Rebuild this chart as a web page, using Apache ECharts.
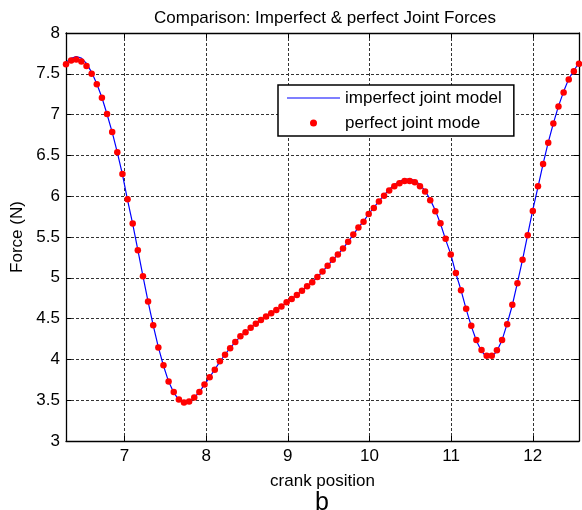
<!DOCTYPE html>
<html>
<head>
<meta charset="utf-8">
<title>Joint Forces</title>
<script src="https://cdn.jsdelivr.net/npm/echarts@6/dist/echarts.min.js"></script>
<style>
  html, body { margin: 0; padding: 0; background: #fff; }
  #chart { width: 582px; height: 510px; }
</style>
</head>
<body>
<div id="chart"></div>
<script>
// Crank positions (rad), one full turn from 2π to 4π
const crankPosition = [
  6.2832, 6.3460, 6.4088, 6.4717, 6.5345, 6.5973, 6.6602, 6.7230, 6.7858, 6.8487,
  6.9115, 6.9743, 7.0372, 7.1000, 7.1628, 7.2257, 7.2885, 7.3513, 7.4142, 7.4770,
  7.5398, 7.6027, 7.6655, 7.7283, 7.7911, 7.8540, 7.9168, 7.9796, 8.0425, 8.1053,
  8.1681, 8.2310, 8.2938, 8.3566, 8.4195, 8.4823, 8.5451, 8.6080, 8.6708, 8.7336,
  8.7965, 8.8593, 8.9221, 8.9850, 9.0478, 9.1106, 9.1735, 9.2363, 9.2991, 9.3619,
  9.4248, 9.4876, 9.5504, 9.6133, 9.6761, 9.7389, 9.8018, 9.8646, 9.9274, 9.9903,
  10.0531, 10.1159, 10.1788, 10.2416, 10.3044, 10.3673, 10.4301, 10.4929, 10.5558, 10.6186,
  10.6814, 10.7442, 10.8071, 10.8699, 10.9327, 10.9956, 11.0584, 11.1212, 11.1841, 11.2469,
  11.3097, 11.3726, 11.4354, 11.4982, 11.5611, 11.6239, 11.6867, 11.7496, 11.8124, 11.8752,
  11.9381, 12.0009, 12.0637, 12.1265, 12.1894, 12.2522, 12.3150, 12.3779, 12.4407, 12.5035,
  12.5664
];

// Joint force with clearance (imperfect joint), N
const imperfectForce = [
  7.640, 7.690, 7.712, 7.692, 7.628, 7.518, 7.378, 7.210, 7.004, 6.786,
  6.536, 6.268, 5.952, 5.660, 5.342, 5.020, 4.708, 4.418, 4.150, 3.922,
  3.728, 3.594, 3.505, 3.468, 3.480, 3.530, 3.602, 3.690, 3.782, 3.876,
  3.972, 4.060, 4.140, 4.212, 4.282, 4.336, 4.386, 4.438, 4.480, 4.528,
  4.566, 4.604, 4.650, 4.700, 4.742, 4.788, 4.842, 4.896, 4.944, 5.010,
  5.074, 5.148, 5.218, 5.288, 5.358, 5.444, 5.530, 5.618, 5.690, 5.784,
  5.860, 5.940, 6.012, 6.082, 6.140, 6.182, 6.205, 6.210, 6.194, 6.142,
  6.066, 5.958, 5.826, 5.662, 5.468, 5.290, 5.052, 4.850, 4.616, 4.408,
  4.228, 4.100, 4.030, 4.030, 4.102, 4.236, 4.438, 4.664, 4.940, 5.224,
  5.530, 5.836, 6.112, 6.396, 6.660, 6.892, 7.104, 7.282, 7.438, 7.540,
  7.632
];

// Joint force without clearance (perfect joint), N
const perfectForce = [
  7.617, 7.663, 7.675, 7.650, 7.597, 7.502, 7.371, 7.207, 7.006, 6.788,
  6.538, 6.271, 5.963, 5.664, 5.339, 5.018, 4.711, 4.420, 4.147, 3.927,
  3.730, 3.599, 3.509, 3.472, 3.484, 3.533, 3.599, 3.693, 3.780, 3.873,
  3.977, 4.058, 4.137, 4.214, 4.284, 4.334, 4.387, 4.436, 4.482, 4.526,
  4.565, 4.605, 4.648, 4.701, 4.740, 4.789, 4.842, 4.895, 4.945, 5.009,
  5.076, 5.147, 5.220, 5.286, 5.360, 5.442, 5.532, 5.615, 5.688, 5.782,
  5.856, 5.935, 6.004, 6.070, 6.123, 6.160, 6.185, 6.185, 6.172, 6.123,
  6.058, 5.951, 5.815, 5.667, 5.479, 5.286, 5.060, 4.846, 4.621, 4.411,
  4.239, 4.116, 4.046, 4.046, 4.112, 4.239, 4.432, 4.670, 4.932, 5.220,
  5.520, 5.819, 6.123, 6.394, 6.656, 6.890, 7.100, 7.272, 7.429, 7.531,
  7.622
];

// Axis ticks
const crankTicks = [7, 8, 9, 10, 11, 12];
const forceTicks = [3, 3.5, 4, 4.5, 5, 5.5, 6, 6.5, 7, 7.5, 8];

const seriesNames = ['imperfect joint model', 'perfect joint mode'];

const FONT = 'Liberation Sans, Arial, Helvetica, sans-serif';

const pairs = (xs, ys) => xs.map((x, i) => [x, ys[i]]);

const gridLine = { show: true, lineStyle: { color: '#333', width: 1, type: [3, 2] } };
const boxLine = { show: true, onZero: false, lineStyle: { color: '#000', width: 1.3 } };
const tickIn = (vals) => ({ show: true, inside: true, length: 5, customValues: vals, lineStyle: { color: '#000', width: 1 } });

const chart = echarts.init(document.getElementById('chart'), null, { renderer: 'canvas' });

chart.setOption({
  animation: false,
  backgroundColor: '#fff',
  textStyle: { fontFamily: FONT },
  title: {
    text: 'Comparison: Imperfect & perfect Joint Forces',
    left: 154,
    top: 10,
    padding: 0,
    textStyle: { fontFamily: FONT, fontSize: 17, fontWeight: 'normal', color: '#000' }
  },
  grid: { left: 66, right: 3, top: 33, bottom: 69, containLabel: false },
  legend: {
    orient: 'vertical',
    left: 278,
    top: 85,
    padding: [3, 12, 3, 9],
    itemWidth: 53,
    itemHeight: 7,
    itemGap: 5,
    borderColor: '#000',
    borderWidth: 1.5,
    backgroundColor: '#fff',
    textStyle: { fontFamily: FONT, fontSize: 17, lineHeight: 20, color: '#000' },
    data: [
      // plain line sample, no marker
      { name: seriesNames[0], icon: 'path://M0,0 L53,0 L53,1.2 L0,1.2 Z', itemStyle: { color: '#0000ff' } },
      { name: seriesNames[1], icon: 'circle' }
    ]
  },
  xAxis: [
    {
      type: 'value',
      position: 'bottom',
      min: 2 * Math.PI,
      max: 4 * Math.PI,
      name: 'crank position',
      nameLocation: 'middle',
      nameGap: 32,
      nameTextStyle: { fontFamily: FONT, fontSize: 17, color: '#000' },
      axisLine: boxLine,
      axisTick: tickIn(crankTicks),
      axisLabel: { customValues: crankTicks, margin: 7, fontFamily: FONT, fontSize: 17, color: '#000' },
      splitLine: gridLine
    },
    {
      type: 'value',
      position: 'top',
      min: 2 * Math.PI,
      max: 4 * Math.PI,
      axisLine: boxLine,
      axisTick: tickIn(crankTicks),
      axisLabel: { show: false, customValues: crankTicks },
      splitLine: { show: false }
    }
  ],
  yAxis: [
    {
      type: 'value',
      position: 'left',
      min: forceTicks[0],
      max: forceTicks[forceTicks.length - 1],
      interval: 0.5,
      name: 'Force (N)',
      nameLocation: 'middle',
      nameGap: 35,
      nameTextStyle: { fontFamily: FONT, fontSize: 17, color: '#000' },
      axisLine: boxLine,
      axisTick: { show: true, inside: true, length: 5, lineStyle: { color: '#000' } },
      axisLabel: { margin: 6, fontFamily: FONT, fontSize: 17, color: '#000' },
      splitLine: gridLine
    },
    {
      type: 'value',
      position: 'right',
      min: forceTicks[0],
      max: forceTicks[forceTicks.length - 1],
      interval: 0.5,
      axisLine: boxLine,
      axisTick: { show: true, inside: true, length: 5, lineStyle: { color: '#000' } },
      axisLabel: { show: false },
      splitLine: { show: false }
    }
  ],
  series: [
    {
      name: seriesNames[0],
      type: 'line',
      xAxisIndex: 0,
      yAxisIndex: 0,
      data: pairs(crankPosition, imperfectForce),
      symbol: 'none',
      smooth: false,
      lineStyle: { color: '#0000ff', width: 1.2 },
      itemStyle: { color: '#0000ff' },
      z: 2
    },
    {
      name: seriesNames[1],
      type: 'scatter',
      xAxisIndex: 0,
      yAxisIndex: 0,
      data: pairs(crankPosition, perfectForce),
      symbol: 'circle',
      symbolSize: 6.5,
      itemStyle: { color: '#ff0000', opacity: 1 },
      clip: false,
      z: 3
    }
  ],
  graphic: [
    {
      type: 'text',
      left: 315,
      top: 491,
      style: { text: 'b', fontFamily: FONT, fontSize: 25, fill: '#000' }
    }
  ]
});
</script>
</body>
</html>
